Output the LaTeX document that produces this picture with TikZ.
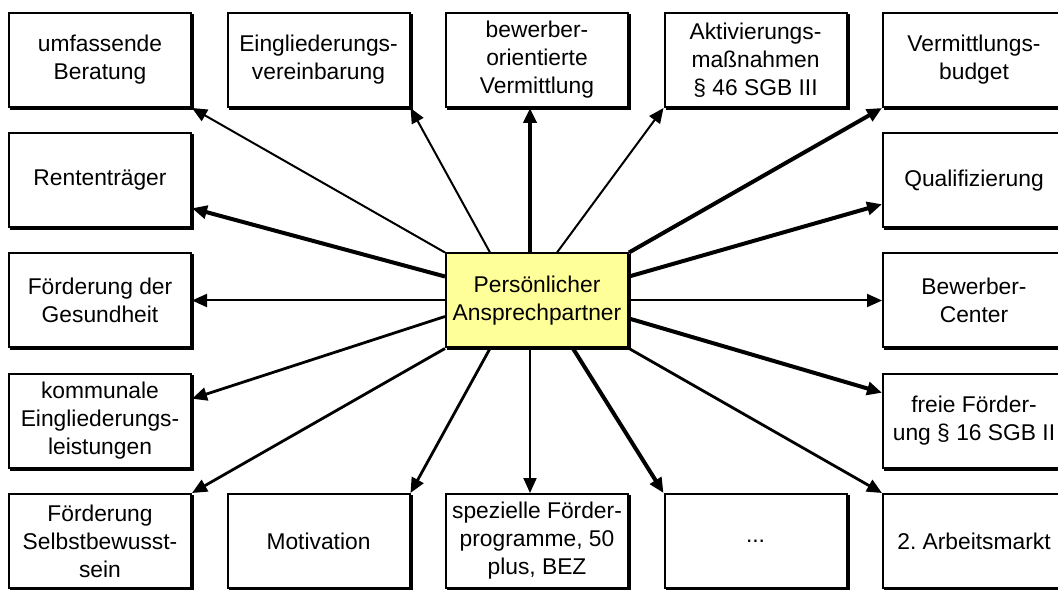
\documentclass[tikz,border=0pt]{standalone}
\usepackage{fontspec}
\setmainfont{Liberation Sans}
\usetikzlibrary{arrows.meta,shadows}
\definecolor{paYellow}{HTML}{FFFF99}
\frenchspacing

\begin{document}
\begin{tikzpicture}[
	x=109.25pt, y=60.125pt,
	bx/.style = {rectangle, draw=black, fill=white, line width=1pt, minimum width=91pt, minimum height=47pt, inner sep=2pt, align=center,
		font=\fontsize{11.4}{14}\selectfont,
		general shadow={fill=black, draw=black, line width=1pt, shadow xshift=1pt, shadow yshift=-1pt}},
	ctr/.style = {bx, fill=paYellow},
	ar/.style = {-{Triangle[length=7.5pt, width=6.5pt]}, line width=1pt},
	arm/.style = {ar, line width=1.4pt},
	arb/.style = {ar, line width=2pt}
	]
	\useasboundingbox (-50pt, -24pt) rectangle (479pt, 270.5pt);
	
	% === === === Nodes === === ===
	\node[bx]	(0-4)	at	(0, 4)	{umfassende\\Beratung};
	\node[bx]	(1-4)	at	(1, 4)	{Eingliederungs-\\vereinbarung};
	\node[bx]	(2-4)	at	(2, 4)	{bewerber-\\orientierte\\Vermittlung};
	\node[bx]	(3-4)	at	(3, 4)	{Aktivierungs-\\maßnahmen\\§ 46 SGB III};
	\node[bx]	(4-4)	at	(4, 4)	{Vermittlungs-\\budget};
	
	\node[bx]	(0-3)	at	(0, 3)	{Rententräger};
	\node[bx]	(4-3)	at	(4, 3)	{Qualifizierung};
	
	\node[bx]	(0-2)	at	(0, 2)	{Förderung der\\Gesundheit};
	\node[ctr]	(2-2)	at	(2, 2)	{Persönlicher\\Ansprechpartner};
	\node[bx]	(4-2)	at	(4, 2)	{Bewerber-\\Center};
	
	\node[bx]	(0-1)	at	(0, 1)	{kommunale\\Eingliederungs-\\leistungen};
	\node[bx]	(4-1)	at	(4, 1)	{freie Förder-\\ung § 16 SGB II};
	
	\node[bx]	(0-0)	at	(0, 0)	{Förderung\\Selbstbewusst-\\sein};
	\node[bx]	(1-0)	at	(1, 0)	{Motivation};
	\node[bx]	(2-0)	at	(2, 0)	{spezielle Förder-\\programme, 50\\plus, BEZ};
	\node[bx]	(3-0)	at	(3, 0)	{...};
	\node[bx]	(4-0)	at	(4, 0)	{2. Arbeitsmarkt};
	
	
	
	% === === === Arrows === === ===
	\draw[ar]	(2-2.north west)	to	(0-4.south east);
	\draw[ar]	([xshift=-23.5pt]2-2.north)	to	(1-4.south east);
	\draw[arb]	([xshift=-3.5pt]2-2.north)	to	([xshift=-3.5pt]2-4.south);
	\draw[ar]	([xshift=10pt]2-2.north)	to	(3-4.south west);
	\draw[arb]	(2-2.north east)	to	(4-4.south west);
	
	\draw[arb]	([yshift=12pt]2-2.west)	to	([yshift=-14pt]0-3.east);
	\draw[arb]	([yshift=12pt]2-2.east)	to	([yshift=-12pt]4-3.west);
	
	\draw[ar]	(2-2.west)	to	(0-2.east);
	\draw[ar]	(2-2.east)	to	(4-2.west);
	
	\draw[arm]	([yshift=-8pt]2-2.west)	to	([yshift=11pt]0-1.east);
	\draw[arb]	([yshift=-9pt]2-2.east)	to	([yshift=14pt]4-1.west);
	
	\draw[arm]	(2-2.south west)	to	(0-0.north east);
	\draw[arm]	([xshift=-23.5pt]2-2.south)	to	(1-0.north east);
	\draw[ar]	([xshift=-3.5pt]2-2.south)	to	([xshift=-3.5pt]2-0.north);
	\draw[arb]	([xshift=18pt]2-2.south)	to	(3-0.north west);
	\draw[arm]	(2-2.south east)	to	(4-0.north west);
	
\end{tikzpicture}
\end{document}
